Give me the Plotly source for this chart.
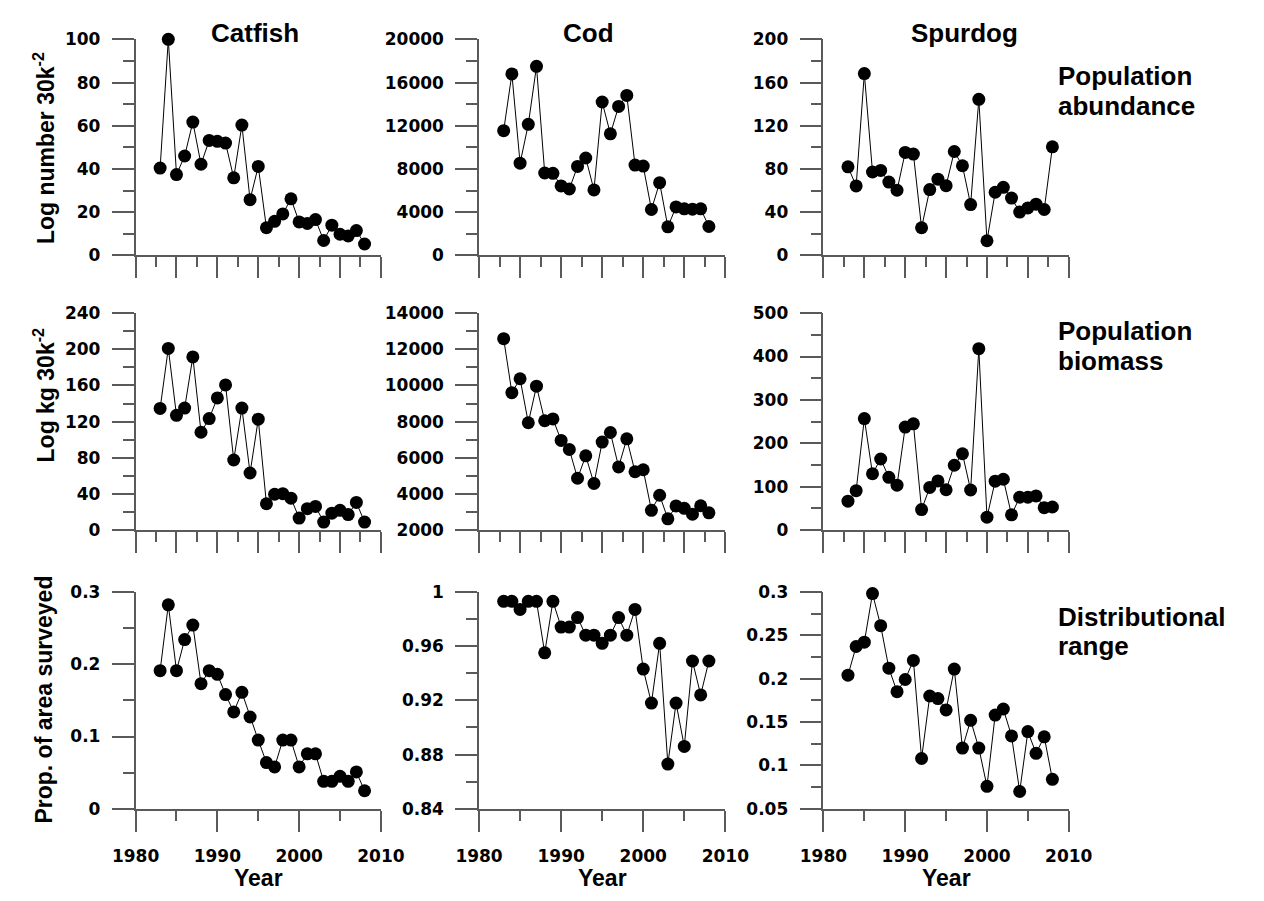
import plotly.graph_objects as go

# ---------------- data ----------------
years = [1983, 1984, 1985, 1986, 1987, 1988, 1989, 1990, 1991, 1992, 1993, 1994, 1995,
         1996, 1997, 1998, 1999, 2000, 2001, 2002, 2003, 2004, 2005, 2006, 2007, 2008]

species = ["Catfish", "Cod", "Spurdog"]
row_labels = [["Population", "abundance"], ["Population", "biomass"], ["Distributional", "range"]]
y_titles = ["Log number 30k<sup>-2</sup>", "Log kg 30k<sup>-2</sup>", "Prop. of area surveyed"]

catfish_abundance = [40.4, 100, 37.4, 46, 61.7, 42.2, 53.2, 52.8, 52, 35.9, 60.3, 25.8, 41.2,
                     12.8, 15.8, 19.2, 26.2, 15.5, 14.8, 16.6, 6.9, 14, 9.8, 9, 11.5, 5.3]
cod_abundance = [11550, 16800, 8540, 12130, 17500, 7630, 7600, 6430, 6150, 8240, 9020, 6060, 14200,
                 11250, 13790, 14810, 8360, 8270, 4250, 6730, 2650, 4490, 4310, 4280, 4310, 2680]
spurdog_abundance = [82, 64.3, 168.3, 77.2, 78.7, 67.9, 60.3, 95.3, 93.8, 25.6, 60.9, 70.6, 64.6,
                     96.2, 83, 47.1, 144.5, 13.6, 58.5, 63, 53.1, 40.1, 44, 47.4, 42.5, 100.5]

catfish_biomass = [134.6, 201, 127, 135, 191.6, 108.3, 123.4, 146.2, 160.6, 77.6, 135, 63.2, 122.7,
                   29.2, 39.7, 40.4, 35.4, 13.4, 23.8, 26.3, 9, 18.8, 22, 17.3, 30.7, 9]
cod_biomass = [12590, 9600, 10370, 7940, 9960, 8050, 8150, 6960, 6460, 4870, 6110, 4580, 6870,
               7400, 5500, 7050, 5230, 5340, 3100, 3930, 2630, 3340, 3210, 2880, 3350, 2960]
spurdog_biomass = [66.9, 91, 257, 130, 164, 121.8, 103.8, 237.6, 245, 47.4, 98.5, 113.5, 93.2,
                   149.6, 176, 92.5, 418, 30, 112.8, 117.3, 35.3, 76, 76, 79, 51.9, 53.4]

catfish_range = [0.191, 0.282, 0.191, 0.234, 0.254, 0.173, 0.191, 0.186, 0.158, 0.134, 0.161, 0.127, 0.095,
                 0.064, 0.058, 0.095, 0.095, 0.058, 0.076, 0.076, 0.038, 0.038, 0.045, 0.038, 0.051, 0.025]
cod_range = [0.993, 0.993, 0.987, 0.993, 0.993, 0.955, 0.993, 0.974, 0.974, 0.981, 0.968, 0.968, 0.962,
             0.968, 0.981, 0.968, 0.987, 0.943, 0.918, 0.962, 0.873, 0.918, 0.886, 0.949, 0.924, 0.949]
spurdog_range = [0.204, 0.237, 0.242, 0.298, 0.261, 0.212, 0.185, 0.199, 0.221, 0.108, 0.180, 0.177, 0.164,
                 0.211, 0.120, 0.152, 0.120, 0.076, 0.158, 0.165, 0.134, 0.070, 0.139, 0.114, 0.133, 0.084]

# x ticks
x_major_top = [1980, 1985, 1990, 1995, 2000, 2005, 2010]
x_minor_top = [1982.5, 1987.5, 1992.5, 1997.5, 2002.5, 2007.5]
x_major_bottom = [1980, 1990, 2000, 2010]
x_minor_bottom = [1985, 1995, 2005]
x_tick_labels = ["1980", "1990", "2000", "2010"]

# y ticks per panel: (labelled ticks, labels, minor ticks)
y_ticks = [
    [([0, 20, 40, 60, 80, 100], ["0", "20", "40", "60", "80", "100"], [10, 30, 50, 70, 90]),
     ([0, 4000, 8000, 12000, 16000, 20000], ["0", "4000", "8000", "12000", "16000", "20000"],
      [2000, 6000, 10000, 14000, 18000]),
     ([0, 40, 80, 120, 160, 200], ["0", "40", "80", "120", "160", "200"], [20, 60, 100, 140, 180])],
    [([0, 40, 80, 120, 160, 200, 240], ["0", "40", "80", "120", "160", "200", "240"],
      [20, 60, 100, 140, 180, 220]),
     ([2000, 4000, 6000, 8000, 10000, 12000, 14000],
      ["2000", "4000", "6000", "8000", "10000", "12000", "14000"],
      [3000, 5000, 7000, 9000, 11000, 13000]),
     ([0, 100, 200, 300, 400, 500], ["0", "100", "200", "300", "400", "500"], [50, 150, 250, 350, 450])],
    [([0, 0.1, 0.2, 0.3], ["0", "0.1", "0.2", "0.3"], [0.05, 0.15, 0.25]),
     ([0.84, 0.88, 0.92, 0.96, 1.0], ["0.84", "0.88", "0.92", "0.96", "1"], [0.86, 0.90, 0.94, 0.98]),
     ([0.05, 0.1, 0.15, 0.2, 0.25, 0.3], ["0.05", "0.1", "0.15", "0.2", "0.25", "0.3"],
      [0.075, 0.125, 0.175, 0.225, 0.275])],
]
y_ranges = [
    [[0, 100], [0, 20000], [0, 200]],
    [[0, 240], [2000, 14000], [0, 500]],
    [[0, 0.3], [0.84, 1.0], [0.05, 0.3]],
]
series = [
    [catfish_abundance, cod_abundance, spurdog_abundance],
    [catfish_biomass, cod_biomass, spurdog_biomass],
    [catfish_range, cod_range, spurdog_range],
]

# ---------------- layout geometry (pixels) ----------------
W, H = 1264, 901
col_px = [(116, 371), (473, 729), (831, 1086)]
row_px = [(30, 251), (310, 532), (595, 817)]

AXIS_COLOR = "#5a5a5a"
TICK_FONT = dict(family="DejaVu Sans", size=17, color="black", weight="bold")
BIG_FONT = dict(family="Liberation Sans, Arial", size=26, color="black", weight="bold")
YT_FONT = dict(family="Liberation Sans, Arial", size=23, color="black", weight="bold")
YEAR_FONT = dict(family="Liberation Sans, Arial", size=23, color="black", weight="bold")

fig = go.Figure()
layout = {}

for r in range(3):
    for c in range(3):
        i = r * 3 + c + 1
        xs = "" if i == 1 else str(i)
        fig.add_trace(go.Scatter(
            x=years, y=series[r][c], xaxis="x" + xs, yaxis="y" + xs,
            mode="lines+markers",
            line=dict(color="black", width=1),
            marker=dict(color="black", size=13),
            cliponaxis=False, showlegend=False, hoverinfo="skip"))

        x0, x1 = col_px[c]
        y0, y1 = row_px[r]
        bottom = (r == 2)
        xa = dict(
            domain=[x0 / W, x1 / W], range=[1980, 2010], anchor="y" + xs,
            showline=True, linecolor=AXIS_COLOR, linewidth=1.5,
            showgrid=False, zeroline=False,
            ticks="outside", ticklen=21, tickwidth=1.5, tickcolor=AXIS_COLOR,
            tickvals=x_major_bottom if bottom else x_major_top,
            showticklabels=bottom,
            minor=dict(tickvals=x_minor_bottom if bottom else x_minor_top,
                       ticks="outside", ticklen=10, tickwidth=1.5, tickcolor=AXIS_COLOR,
                       showgrid=False),
        )
        if bottom:
            xa.update(ticktext=x_tick_labels, tickfont=TICK_FONT, ticklabelstandoff=10)
        layout["xaxis" + xs] = xa
        tv, tt, mv = y_ticks[r][c]
        layout["yaxis" + xs] = dict(
            domain=[1 - y1 / H, 1 - y0 / H], range=y_ranges[r][c], anchor="x" + xs,
            showline=True, linecolor=AXIS_COLOR, linewidth=1.5,
            showgrid=False, zeroline=False,
            ticks="outside", ticklen=22, tickwidth=1.5, tickcolor=AXIS_COLOR,
            tickvals=tv, ticktext=tt, tickfont=TICK_FONT, ticklabelstandoff=8,
            minor=dict(tickvals=mv, ticks="outside", ticklen=11, tickwidth=1.5,
                       tickcolor=AXIS_COLOR, showgrid=False),
        )

annotations = []
# column titles
title_x = [240, 587, 978]
for c, name in enumerate(species):
    annotations.append(dict(text=name, x=title_x[c] / W, y=1 - 24 / H, xref="paper", yref="paper",
                            xanchor="center", yanchor="middle", showarrow=False, font=BIG_FONT))
# row labels (two lines each)
row_line_y = [(68, 98), (328, 359), (621, 650)]
for r, lines in enumerate(row_labels):
    for k, txt in enumerate(lines):
        annotations.append(dict(text=txt, x=1073 / W, y=1 - row_line_y[r][k] / H,
                                xref="paper", yref="paper", xanchor="left", yanchor="middle",
                                showarrow=False, font=BIG_FONT))
# y titles
ytitle_y = [141, 394, 705]
for r, txt in enumerate(y_titles):
    annotations.append(dict(text=txt, x=21 / W, y=1 - ytitle_y[r] / H, xref="paper", yref="paper",
                            xanchor="center", yanchor="middle", textangle=-90,
                            showarrow=False, font=YT_FONT))
# Year labels
for c in range(3):
    cx = (col_px[c][0] + col_px[c][1]) / 2
    annotations.append(dict(text="Year", x=cx / W, y=1 - 888 / H, xref="paper", yref="paper",
                            xanchor="center", yanchor="middle", showarrow=False, font=YEAR_FONT))

fig.update_layout(
    width=W, height=H, margin=dict(l=0, r=0, t=0, b=0),
    paper_bgcolor="white", plot_bgcolor="white",
    annotations=annotations, **layout)

fig.write_html("out.html")
